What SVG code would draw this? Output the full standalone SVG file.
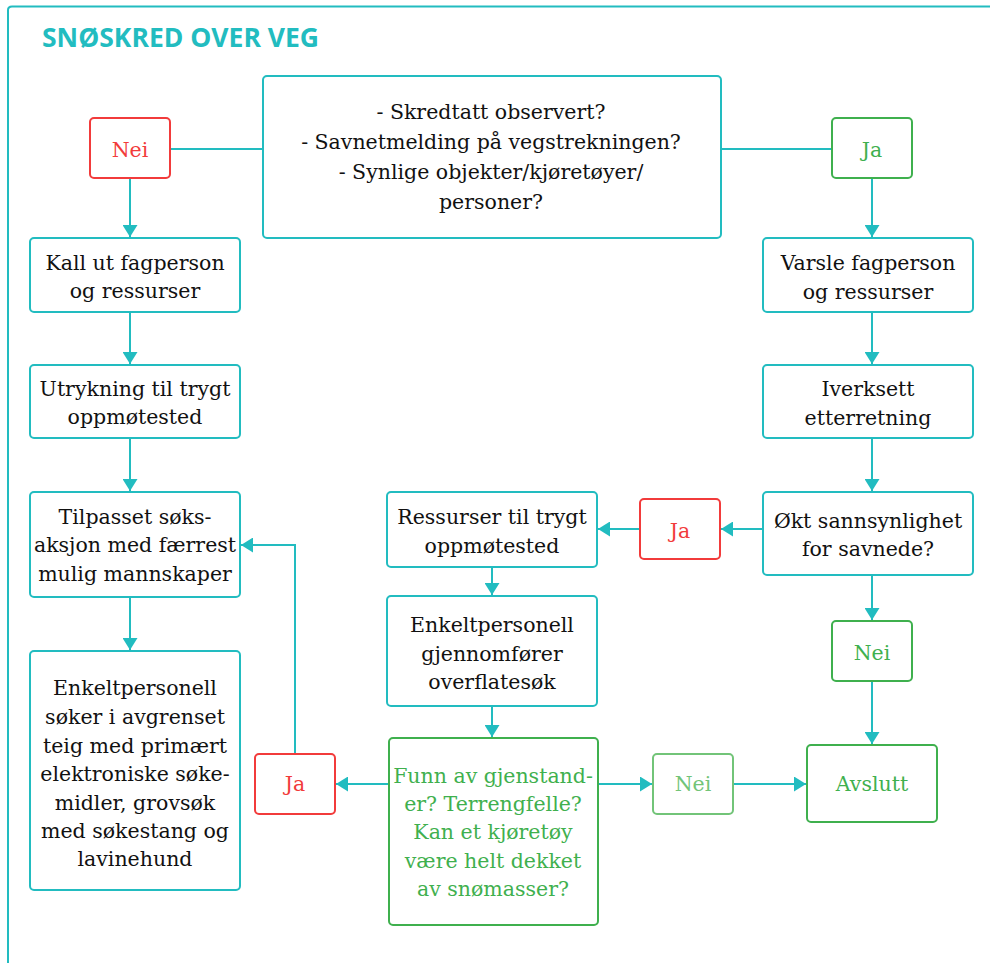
<svg xmlns="http://www.w3.org/2000/svg" width="990" height="963" viewBox="0 0 990 963">
<defs>
<marker id="ah" viewBox="0 0 12 15" refX="12" refY="7.5" markerWidth="12" markerHeight="15" markerUnits="userSpaceOnUse" orient="auto">
<path d="M0,0 L12,7.5 L0,15 z" fill="#22bcc0"/>
</marker>
<style>
.bx{fill:#fff;stroke:#22bcc0;stroke-width:2}
.rd{fill:#fff;stroke:#f23b3b;stroke-width:2}
.gr{fill:#fff;stroke:#3fb04e;stroke-width:2}
.lg{fill:#fff;stroke:#72c478;stroke-width:2}
text{font-family:"DejaVu Serif","Liberation Serif",serif;font-size:20.5px;text-anchor:middle;fill:#111}
.tr{fill:#f23b3b}
.tg{fill:#3fb04e}
.tl{fill:#72c478}
.c line,.c path{stroke:#22bcc0;stroke-width:2;fill:none}
.a{marker-end:url(#ah)}
</style>
</defs>
<rect width="990" height="963" fill="#fff"/>
<path d="M8,963 V10 Q8,6.5 12,6.5 H990" fill="none" stroke="#22bcc0" stroke-width="2"/>
<text x="42" y="47" style="font-family:'Open Sans',sans-serif;font-weight:bold;font-size:26.5px;text-anchor:start;fill:#22bcc0">SNØSKRED OVER VEG</text>

<g class="c">
<line x1="170" y1="149" x2="263" y2="149"/>
<line x1="721" y1="149" x2="832" y2="149"/>
<line class="a" x1="130" y1="178" x2="130" y2="237"/>
<line class="a" x1="130" y1="312" x2="130" y2="364"/>
<line class="a" x1="130" y1="438" x2="130" y2="491"/>
<line class="a" x1="130" y1="597" x2="130" y2="650"/>
<line class="a" x1="872" y1="178" x2="872" y2="237"/>
<line class="a" x1="872" y1="312" x2="872" y2="364"/>
<line class="a" x1="872" y1="438" x2="872" y2="491"/>
<line class="a" x1="872" y1="575" x2="872" y2="620"/>
<line class="a" x1="872" y1="681" x2="872" y2="744"/>
<line class="a" x1="763" y1="529" x2="721" y2="529"/>
<line class="a" x1="640" y1="529" x2="598" y2="529"/>
<line class="a" x1="492" y1="567" x2="492" y2="595"/>
<line class="a" x1="492" y1="706" x2="492" y2="737"/>
<line class="a" x1="598" y1="784" x2="652" y2="784"/>
<line class="a" x1="733" y1="784" x2="806" y2="784"/>
<line class="a" x1="389" y1="784" x2="336" y2="784"/>
<path class="a" d="M295,754 V545 H241"/>
</g>

<g id="q">
<rect class="bx" x="263" y="76" width="458" height="162" rx="4"/>
<text x="491" y="119">- Skredtatt observert?</text>
<text x="491" y="149">- Savnetmelding på vegstrekningen?</text>
<text x="491" y="179">- Synlige objekter/kjøretøyer/</text>
<text x="491" y="209">personer?</text>
</g>
<g id="nei1"><rect class="rd" x="90" y="118" width="80" height="60" rx="4"/><text class="tr" x="130" y="157">Nei</text></g>
<g id="ja1"><rect class="gr" x="832" y="118" width="80" height="60" rx="4"/><text class="tg" x="872" y="157">Ja</text></g>

<g id="l1"><rect class="bx" x="30" y="238" width="210" height="74" rx="4"/><text x="135" y="270">Kall ut fagperson</text><text x="135" y="298">og ressurser</text></g>
<g id="l2"><rect class="bx" x="30" y="365" width="210" height="73" rx="4"/><text x="135" y="396">Utrykning til trygt</text><text x="135" y="424">oppmøtested</text></g>
<g id="l3"><rect class="bx" x="30" y="492" width="210" height="105" rx="4"/><text x="135" y="524">Tilpasset søks-</text><text x="135" y="552">aksjon med færrest</text><text x="135" y="581">mulig mannskaper</text></g>
<g id="l4"><rect class="bx" x="30" y="651" width="210" height="239" rx="4"/>
<text x="135" y="695">Enkeltpersonell</text><text x="135" y="724">søker i avgrenset</text><text x="135" y="753">teig med primært</text><text x="135" y="781">elektroniske søke-</text><text x="135" y="810">midler, grovsøk</text><text x="135" y="838">med søkestang og</text><text x="135" y="866">lavinehund</text></g>

<g id="r1"><rect class="bx" x="763" y="238" width="210" height="74" rx="4"/><text x="868" y="270">Varsle fagperson</text><text x="868" y="299">og ressurser</text></g>
<g id="r2"><rect class="bx" x="763" y="365" width="210" height="73" rx="4"/><text x="868" y="396">Iverksett</text><text x="868" y="425">etterretning</text></g>
<g id="r3"><rect class="bx" x="763" y="492" width="210" height="83" rx="4"/><text x="868" y="528">Økt sannsynlighet</text><text x="868" y="556">for savnede?</text></g>
<g id="nei2"><rect class="gr" x="832" y="621" width="80" height="60" rx="4"/><text class="tg" x="872" y="660">Nei</text></g>
<g id="avs"><rect class="gr" x="807" y="745" width="130" height="77" rx="4"/><text class="tg" x="872" y="791">Avslutt</text></g>

<g id="ja2"><rect class="rd" x="640" y="499" width="80" height="60" rx="4"/><text class="tr" x="680" y="538">Ja</text></g>
<g id="m1"><rect class="bx" x="387" y="492" width="210" height="75" rx="4"/><text x="492" y="524">Ressurser til trygt</text><text x="492" y="553">oppmøtested</text></g>
<g id="m2"><rect class="bx" x="387" y="596" width="210" height="110" rx="4"/><text x="492" y="632">Enkeltpersonell</text><text x="492" y="661">gjennomfører</text><text x="492" y="689">overflatesøk</text></g>
<g id="funn"><rect class="gr" x="389" y="738" width="209" height="187" rx="4"/>
<text class="tg" x="493" y="783">Funn av gjenstand-</text><text class="tg" x="493" y="811">er? Terrengfelle?</text><text class="tg" x="493" y="839">Kan et kjøretøy</text><text class="tg" x="493" y="868">være helt dekket</text><text class="tg" x="493" y="896">av snømasser?</text></g>
<g id="nei3"><rect class="lg" x="653" y="754" width="80" height="60" rx="4"/><text class="tl" x="693" y="791">Nei</text></g>
<g id="ja3"><rect class="rd" x="255" y="754" width="80" height="60" rx="4"/><text class="tr" x="295" y="791">Ja</text></g>
</svg>
